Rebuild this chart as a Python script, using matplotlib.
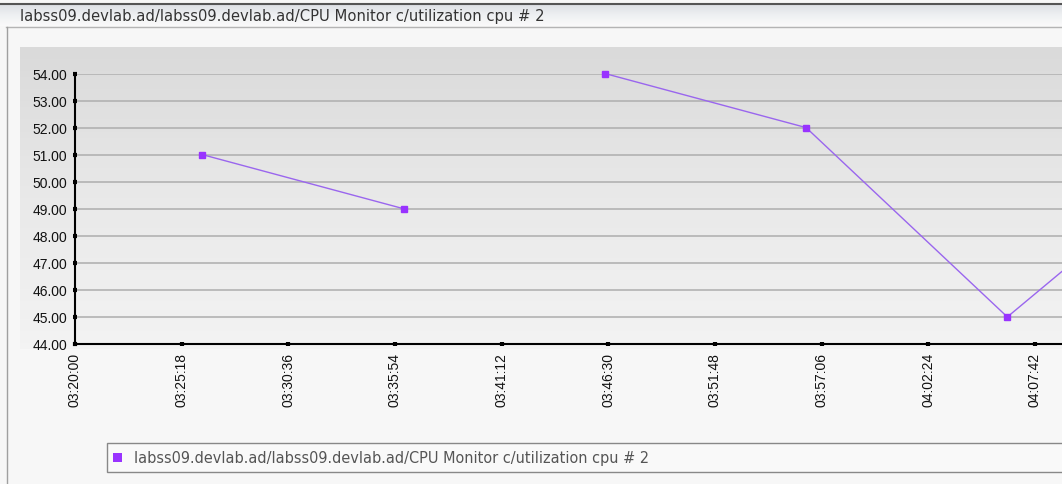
import numpy as np
import matplotlib
matplotlib.use("Agg")
import matplotlib.pyplot as plt
from matplotlib.colors import LinearSegmentedColormap
from matplotlib.patches import Rectangle

series_name = "labss09.devlab.ad/labss09.devlab.ad/CPU Monitor c/utilization cpu # 2"

# samples every 10 minutes, nan = no reading (breaks the line)
sample_times = ["03:26:20", "03:36:20", "03:41:20", "03:46:20",
                "03:56:20", "04:06:20", "04:16:20"]
cpu_values = [51.0, 49.0, np.nan, 54.0, 52.0, 45.0, 51.2]

x_tick_labels = ["03:20:00", "03:25:18", "03:30:36", "03:35:54", "03:41:12",
                 "03:46:30", "03:51:48", "03:57:06", "04:02:24", "04:07:42"]
y_ticks = [44, 45, 46, 47, 48, 49, 50, 51, 52, 53, 54]
x_end = "04:09:03"


def secs(hms):
    h, m, s = (int(p) for p in hms.split(":"))
    return h * 3600 + m * 60 + s


t = [secs(s) for s in sample_times]
xt = [secs(s) for s in x_tick_labels]

W, H = 1062, 485
fig = plt.figure(figsize=(W / 100, H / 100), dpi=100)
fig.patch.set_facecolor("#f7f7f7")

# window chrome drawn in pixel coordinates
bg = fig.add_axes([0, 0, 1, 1], zorder=0)
bg.set_xlim(0, W)
bg.set_ylim(H, 0)
bg.axis("off")
ramp = np.linspace(0, 1, 50).reshape(-1, 1)
bg.imshow(ramp, cmap=LinearSegmentedColormap.from_list(
    "bar", ["#dde0e5", "#eef0f2", "#fafafa"]), extent=(0, W, 27, 5), aspect="auto")
bg.imshow(ramp, cmap=LinearSegmentedColormap.from_list(
    "panel", ["#dadada", "#e9e9e9", "#f3f3f3"]), extent=(20, W, 350, 48), aspect="auto")
bg.plot([0, W], [5, 5], color="#555555", lw=1.5)
bg.plot([6, W], [27.5, 27.5], color="#b4b4b4", lw=1)
bg.plot([6.5, 6.5], [27.5, H], color="#a0a0a0", lw=1)
bg.text(20, 16, series_name, fontsize=10.6, color="#333333",
        family="DejaVu Sans", va="center", ha="left")

# legend box
bg.add_patch(Rectangle((107, 444), 1000, 29, fc="#f9f9f9", ec="#888888", lw=1))
bg.add_patch(Rectangle((112.5, 453.5), 9, 9.5, fc="#9933ff", ec="none"))
bg.text(134, 458.5, series_name, fontsize=10.45, color="#555555",
        family="DejaVu Sans", va="center", ha="left")

ax = fig.add_axes([75 / W, (H - 345) / H, 1 - 75 / W, (345 - 74.5) / H], zorder=2)
ax.set_facecolor("none")
ax.plot(t, cpu_values, color="#9a66ee", lw=1, marker="s", ms=4,
        mfc="#9933ff", mec="#9933ff", zorder=3, clip_on=False)

ax.set_xlim(secs(x_tick_labels[0]), secs(x_end))
ax.set_ylim(y_ticks[0], y_ticks[-1])
ax.set_xticks(xt)
ax.set_xticklabels(x_tick_labels, rotation=90, fontsize=10,
                   family="Liberation Sans", color="#111111")
ax.set_yticks(y_ticks)
ax.set_yticklabels(["%.2f" % v for v in y_ticks], fontsize=10,
                   family="Liberation Sans", color="#111111")
ax.tick_params(direction="inout", length=3, width=3, color="black", pad=4)
ax.grid(axis="y", color="#b2b2b2", lw=1.2)
for s in ("top", "right"):
    ax.spines[s].set_visible(False)
for s in ("left", "bottom"):
    ax.spines[s].set_color("black")
    ax.spines[s].set_linewidth(1.5)

fig.savefig("out.png", dpi=100, facecolor=fig.get_facecolor())
